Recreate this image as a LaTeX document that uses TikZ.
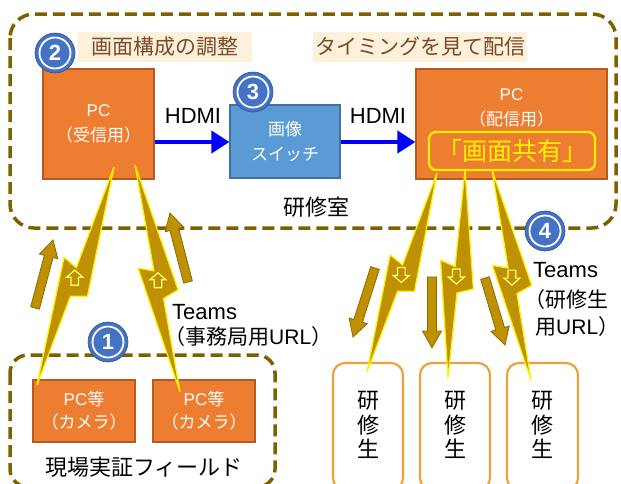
\documentclass[tikz,border=0pt]{standalone}
\usepackage{fontspec}
\setmainfont{Noto Sans CJK JP}
\newfontfamily\lat{Liberation Sans}
\usetikzlibrary{calc,arrows.meta}
\definecolor{framecol}{HTML}{7F6000}
\definecolor{orangefill}{HTML}{ED7D31}
\definecolor{orangeline}{HTML}{B55A1E}
\definecolor{bluefill}{HTML}{5B9BD5}
\definecolor{blueline}{HTML}{41719C}
\definecolor{numcol}{HTML}{4472C4}
\definecolor{boltcol}{HTML}{BF9000}
\definecolor{arrowline}{HTML}{8C6A00}
\definecolor{studline}{HTML}{EDA23A}
\definecolor{headtext}{HTML}{7B4A26}
\definecolor{headbg}{HTML}{FDF1DC}
\definecolor{iconcol}{HTML}{FFFF80}
\tikzset{
  framebox/.style={draw=framecol, line width=3.5pt, dash pattern=on 12pt off 6pt},
  obox/.style={draw=orangeline, fill=orangefill, line width=1.2pt, text=white, align=center, inner sep=0pt},
  bbox/.style={draw=blueline, fill=bluefill, line width=1.2pt, text=white, align=center, inner sep=0pt},
  studbox/.style={draw=studline, fill=white, line width=2.2pt, rounded corners=12pt, align=center, inner sep=0pt},
  headlbl/.style={fill=headbg, text=headtext, inner sep=0pt, font=\fontsize{21}{25}\selectfont},
  boltstyle/.style={fill=boltcol, draw=yellow, line width=1.2pt, line join=miter},
  iconstyle/.style={draw=iconcol, line width=1.2pt, line join=miter},
  barrow/.style={fill=boltcol, draw=arrowline, line width=0.8pt},
  hdmi/.style={draw=blue, line width=4pt, -{Triangle[width=22pt,length=18pt]}},
  numdisc/.style={circle, fill=numcol, draw=numcol!70!black, line width=0.6pt, minimum size=40pt, inner sep=0pt},
  numtext/.style={text=white, font=\lat\bfseries\fontsize{22}{22}\selectfont},
  lbl/.style={inner sep=0pt, font=\fontsize{22}{25}\selectfont},
}
\newcommand\drawbolt[2]{%
  \filldraw[boltstyle] (#1)
    -- ($(#1)!0.565!(#2)!18pt!90:(#2)$)
    -- ($(#1)!0.59!(#2)!2pt!90:(#2)$)
    -- (#2)
    -- ($(#1)!0.44!(#2)!17pt!-90:(#2)$)
    -- ($(#1)!0.465!(#2)!2pt!-90:(#2)$)
    -- cycle;}
\newcommand\hollowup[1]{\draw[iconstyle] ($(#1)+(0,-8)$) -- ++(8,7) -- ++(-4.2,0) -- ++(0,8) -- ++(-7.6,0) -- ++(0,-8) -- ++(-4.2,0) -- cycle;}
\newcommand\hollowdown[1]{\draw[iconstyle] ($(#1)+(0,8)$) -- ++(8,-7) -- ++(-4.2,0) -- ++(0,-8) -- ++(-7.6,0) -- ++(0,8) -- ++(-4.2,0) -- cycle;}
\newcommand\blockarrow[2]{%
  \filldraw[barrow] ($(#1)!4.5pt!90:(#2)$)
    -- ($(#2)!17pt!(#1)!4.5pt!-90:(#1)$)
    -- ($(#2)!17pt!(#1)!9.5pt!-90:(#1)$)
    -- (#2)
    -- ($(#2)!17pt!(#1)!9.5pt!90:(#1)$)
    -- ($(#2)!17pt!(#1)!4.5pt!90:(#1)$)
    -- ($(#1)!4.5pt!-90:(#2)$)
    -- cycle;}
\begin{document}
\begin{tikzpicture}[x=1pt,y=-1pt]
\useasboundingbox[fill=white] (0,0) rectangle (621,483);
% frames
\draw[framebox, rounded corners=24pt] (10,14) rectangle (616,228);
\draw[framebox, rounded corners=18pt] (10,355) rectangle (275,487);
% headings
\node[headlbl, minimum width=174pt, minimum height=30pt] (h1) at (165,47) {画面構成の調整};
\node[headlbl, minimum width=214pt, minimum height=30pt] (h2) at (420,47) {タイミングを見て配信};
% boxes
\node[obox, minimum width=111pt, minimum height=110pt, font=\fontsize{17}{25}\selectfont] (pcr) at (98.5,124) {{\lat PC}\\（受信用）};
\node[bbox, minimum width=110pt, minimum height=73pt, font=\fontsize{17}{25}\selectfont] (sw) at (285,141.5) {画像\\スイッチ};
\node[obox, minimum width=191pt, minimum height=110pt] (pcs) at (511.5,124) {};
\node[text=white, align=center, inner sep=0pt, font=\fontsize{17}{25}\selectfont] (pcst) at (511.5,107.5) {{\lat PC}\\（配信用）};
\node[draw=yellow, line width=2.2pt, rounded corners=7pt, minimum width=166pt, minimum height=38pt, inner sep=0pt, text=yellow, font=\fontsize{25}{25}\selectfont] (share) at (512,151) {「画面共有」};
\node[obox, minimum width=102pt, minimum height=62pt, font=\fontsize{17}{23}\selectfont] (cam1) at (84,411) {{\lat PC}等\\（カメラ）};
\node[obox, minimum width=102pt, minimum height=62pt, font=\fontsize{17}{23}\selectfont] (cam2) at (204,411) {{\lat PC}等\\（カメラ）};
\node[studbox, minimum width=70pt, minimum height=127pt] (s1) at (368,426.5) {};
\node[studbox, minimum width=70pt, minimum height=127pt] (s2) at (455,426.5) {};
\node[studbox, minimum width=71pt, minimum height=127pt] (s3) at (542.5,426.5) {};
\foreach \n/\x in {s1t/368,s2t/455,s3t/542.5}{
  \node[lbl, align=center, font=\fontsize{22}{24.5}\selectfont] (\n) at (\x,425) {研\\修\\生};
}
% HDMI
\draw[hdmi] (pcr.east |- 0,142) -- (sw.west |- 0,142);
\draw[hdmi] (sw.east |- 0,142) -- (pcs.west |- 0,142);
\node[lbl, font=\lat\fontsize{22}{22}\selectfont] (hd1) at (193,116) {HDMI};
\node[lbl, font=\lat\fontsize{22}{22}\selectfont] (hd2) at (378,116) {HDMI};
% brown arrows
\coordinate (u1t) at (35,308); \coordinate (u1h) at (53,240);
\coordinate (u2t) at (188,282); \coordinate (u2h) at (170,213);
\coordinate (dat) at (375,268); \coordinate (dah) at (353,337);
\coordinate (dbt) at (432,277); \coordinate (dbh) at (432,348);
\coordinate (dct) at (485,278); \coordinate (dch) at (505,345);
\blockarrow{u1t}{u1h}
\blockarrow{u2t}{u2h}
\blockarrow{dat}{dah}
\blockarrow{dbt}{dbh}
\blockarrow{dct}{dch}
% bolts
\coordinate (b1s) at (114,167); \coordinate (b1e) at (37,385);
\coordinate (b2s) at (135,165); \coordinate (b2e) at (180,392);
\coordinate (bas) at (437,173); \coordinate (bae) at (367,372);
\coordinate (bbs) at (465,170); \coordinate (bbe) at (448,378);
\coordinate (bcs) at (492,170); \coordinate (bce) at (531,380);
\drawbolt{b1s}{b1e}
\drawbolt{b2s}{b2e}
\drawbolt{bas}{bae}
\drawbolt{bbs}{bbe}
\drawbolt{bcs}{bce}
\coordinate (b1m) at ($(b1s)!0.51!(b1e)$);
\coordinate (b2m) at ($(b2s)!0.51!(b2e)$);
\coordinate (bam) at ($(bas)!0.51!(bae)$);
\coordinate (bbm) at ($(bbs)!0.51!(bbe)$);
\coordinate (bcm) at ($(bcs)!0.51!(bce)$);
\hollowup{b1m}
\hollowup{b2m}
\hollowdown{bam}
\hollowdown{bbm}
\hollowdown{bcm}
% number circles
\foreach \n/\p/\d in {n1/{(108,342)}/1, n2/{(55,53)}/2, n3/{(253,92)}/3, n4/{(545,231)}/4}{
  \node[numdisc] (\n) at \p {};
  \draw[white, line width=1.8pt] (\n) circle (15.5pt);
  \node[numtext] at (\n) {\d};
}
% labels
\node[lbl, anchor=center] (room) at (316,207) {研修室};
\node[lbl, anchor=center] (field) at (144,467) {現場実証フィールド};
\node[lbl, anchor=west, font=\lat\fontsize{22}{22}\selectfont] (tm1) at (172,312) {Teams};
\node[lbl, anchor=west, font=\fontsize{21}{25}\selectfont] (tm1b) at (164,337) {（事務局用{\lat URL}）};
\node[lbl, anchor=west, font=\lat\fontsize{22}{22}\selectfont] (tm2) at (533,270) {Teams};
\node[lbl, anchor=west, font=\fontsize{21}{25}\selectfont] (tm2b) at (524,300) {（研修生};
\node[lbl, anchor=west, font=\fontsize{21}{25}\selectfont] (tm2c) at (535,327) {用{\lat URL}）};
\end{tikzpicture}
\end{document}
